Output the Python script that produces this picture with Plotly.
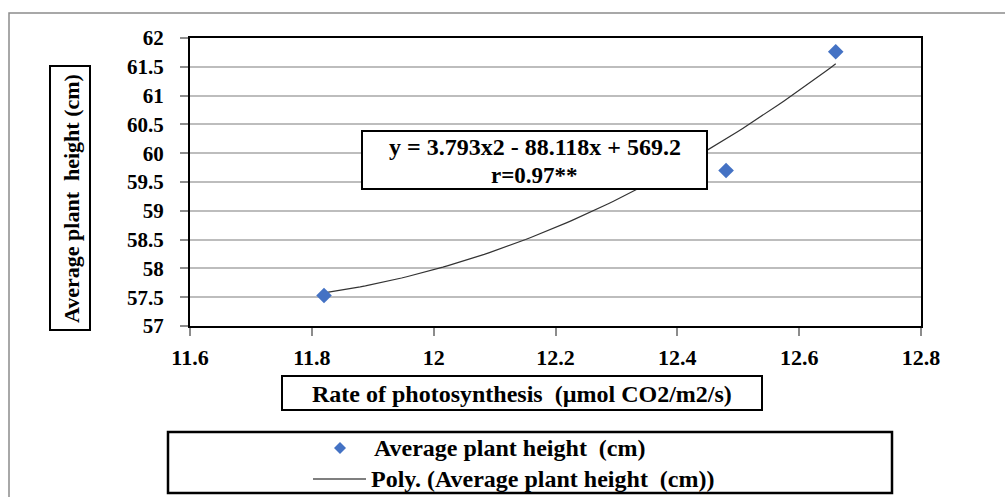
import numpy as np
import plotly.graph_objects as go

# Data
rate_photosynthesis = [11.82, 12.48, 12.66]
avg_plant_height = [57.53, 59.70, 61.76]
poly_coeffs = [3.793, -88.118, 569.2]  # trendline equation shown on chart
x_ticks = [11.6, 11.8, 12.0, 12.2, 12.4, 12.6, 12.8]
x_tick_labels = ["11.6", "11.8", "12", "12.2", "12.4", "12.6", "12.8"]
y_ticks = [57, 57.5, 58, 58.5, 59, 59.5, 60, 60.5, 61, 61.5, 62]
y_tick_labels = ["57", "57.5", "58", "58.5", "59", "59.5", "60", "60.5", "61", "61.5", "62"]

W, H = 1005, 497
L, R, T, B = 190, 921, 38, 326
PW, PH = R - L, B - T

def px(x):
    return (x - L) / PW

def py(y):
    return (B - y) / PH

FONT = "Liberation Serif"
BLUE = "#4472C4"

xs = np.linspace(min(rate_photosynthesis), max(rate_photosynthesis), 100)
ys = np.polyval(poly_coeffs, xs)

fig = go.Figure()
fig.add_trace(go.Scatter(x=xs, y=ys, mode="lines",
                         line=dict(color="#333333", width=1.2),
                         name="Poly. (Average plant height  (cm))", showlegend=False))
fig.add_trace(go.Scatter(x=rate_photosynthesis, y=avg_plant_height, mode="markers",
                         marker=dict(symbol="diamond", size=12, color=BLUE),
                         name="Average plant height  (cm)", showlegend=False))

shapes = []
# outer chart border
shapes.append(dict(type="rect", xref="paper", yref="paper",
                   x0=px(9), x1=px(1012), y0=py(505), y1=py(13),
                   line=dict(color="#8c8c8c", width=1.5), layer="below"))
# equation box
shapes.append(dict(type="rect", xref="paper", yref="paper",
                   x0=px(362), x1=px(707), y0=py(189), y1=py(131),
                   line=dict(color="black", width=2), fillcolor="white", layer="above"))
# y title box
shapes.append(dict(type="rect", xref="paper", yref="paper",
                   x0=px(50), x1=px(90), y0=py(330), y1=py(66),
                   line=dict(color="black", width=2)))
# x title box
shapes.append(dict(type="rect", xref="paper", yref="paper",
                   x0=px(282), x1=px(762), y0=py(410), y1=py(376),
                   line=dict(color="black", width=2)))
# legend box
shapes.append(dict(type="rect", xref="paper", yref="paper",
                   x0=px(168), x1=px(892), y0=py(493), y1=py(432),
                   line=dict(color="black", width=2.5)))
# legend line sample
shapes.append(dict(type="line", xref="paper", yref="paper",
                   x0=px(313), x1=px(366), y0=py(479), y1=py(479),
                   line=dict(color="black", width=1.2)))
# legend diamond sample
shapes.append(dict(type="path", xref="paper", yref="paper",
                   path="M %f,%f L %f,%f L %f,%f L %f,%f Z" % (
                       px(334), py(448), px(340), py(442), px(346), py(448), px(340), py(454)),
                   line=dict(color=BLUE, width=0), fillcolor=BLUE))

ann = []
tf = dict(family=FONT, size=24, color="black")
base = dict(xref="paper", yref="paper", showarrow=False, xanchor="center", yanchor="middle")
ann.append(dict(base, x=px(534.5), y=py(147),
                text="<b>y = 3.793x2 - 88.118x + 569.2</b>",
                font=dict(family=FONT, size=24, color="black")))
ann.append(dict(base, x=px(534.5), y=py(175),
                text="<b>r=0.97**</b>",
                font=dict(family=FONT, size=23, color="black")))
ann.append(dict(base, x=px(71), y=py(198),
                text="<b>Average plant  height (cm)</b>", textangle=-90,
                font=dict(family=FONT, size=22, color="black")))
ann.append(dict(base, x=px(522), y=py(394),
                text="<b>Rate of photosynthesis  (µmol CO2/m2/s)</b>", font=tf))
ann.append(dict(base, x=px(372), y=py(448), xanchor="left",
                text="<b>Average plant height  (cm)</b>", font=tf))
ann.append(dict(base, x=px(369), y=py(479), xanchor="left",
                text="<b>Poly. (Average plant height  (cm))</b>", font=tf))

fig.update_layout(
    width=W, height=H,
    margin=dict(l=L, r=W - R, t=T, b=H - B, pad=0),
    paper_bgcolor="white", plot_bgcolor="white",
    shapes=shapes, annotations=ann, showlegend=False,
    xaxis=dict(range=[11.6, 12.8], tickvals=x_ticks,
               ticktext=["<b>%s</b>" % t for t in x_tick_labels],
               showgrid=False, zeroline=False,
               showline=True, linecolor="black", linewidth=2, mirror=True,
               ticks="outside", ticklen=8, tickcolor="#8c8c8c", tickwidth=1.5,
               tickfont=dict(family=FONT, size=22, color="black"),
               ticklabelstandoff=3),
    yaxis=dict(range=[57, 62], tickvals=y_ticks,
               ticktext=["<b>%s</b>" % t for t in y_tick_labels],
               showgrid=True, gridcolor="#bdbdbd", gridwidth=1.5, zeroline=False,
               showline=True, linecolor="black", linewidth=2, mirror=True,
               ticks="outside", ticklen=8, tickcolor="#8c8c8c", tickwidth=1.5,
               tickfont=dict(family=FONT, size=21, color="black"),
               ticklabelstandoff=12),
)

fig.write_html("out.html", config={"displayModeBar": False},
               post_script="document.body.style.margin='0';document.body.style.overflow='hidden';")
